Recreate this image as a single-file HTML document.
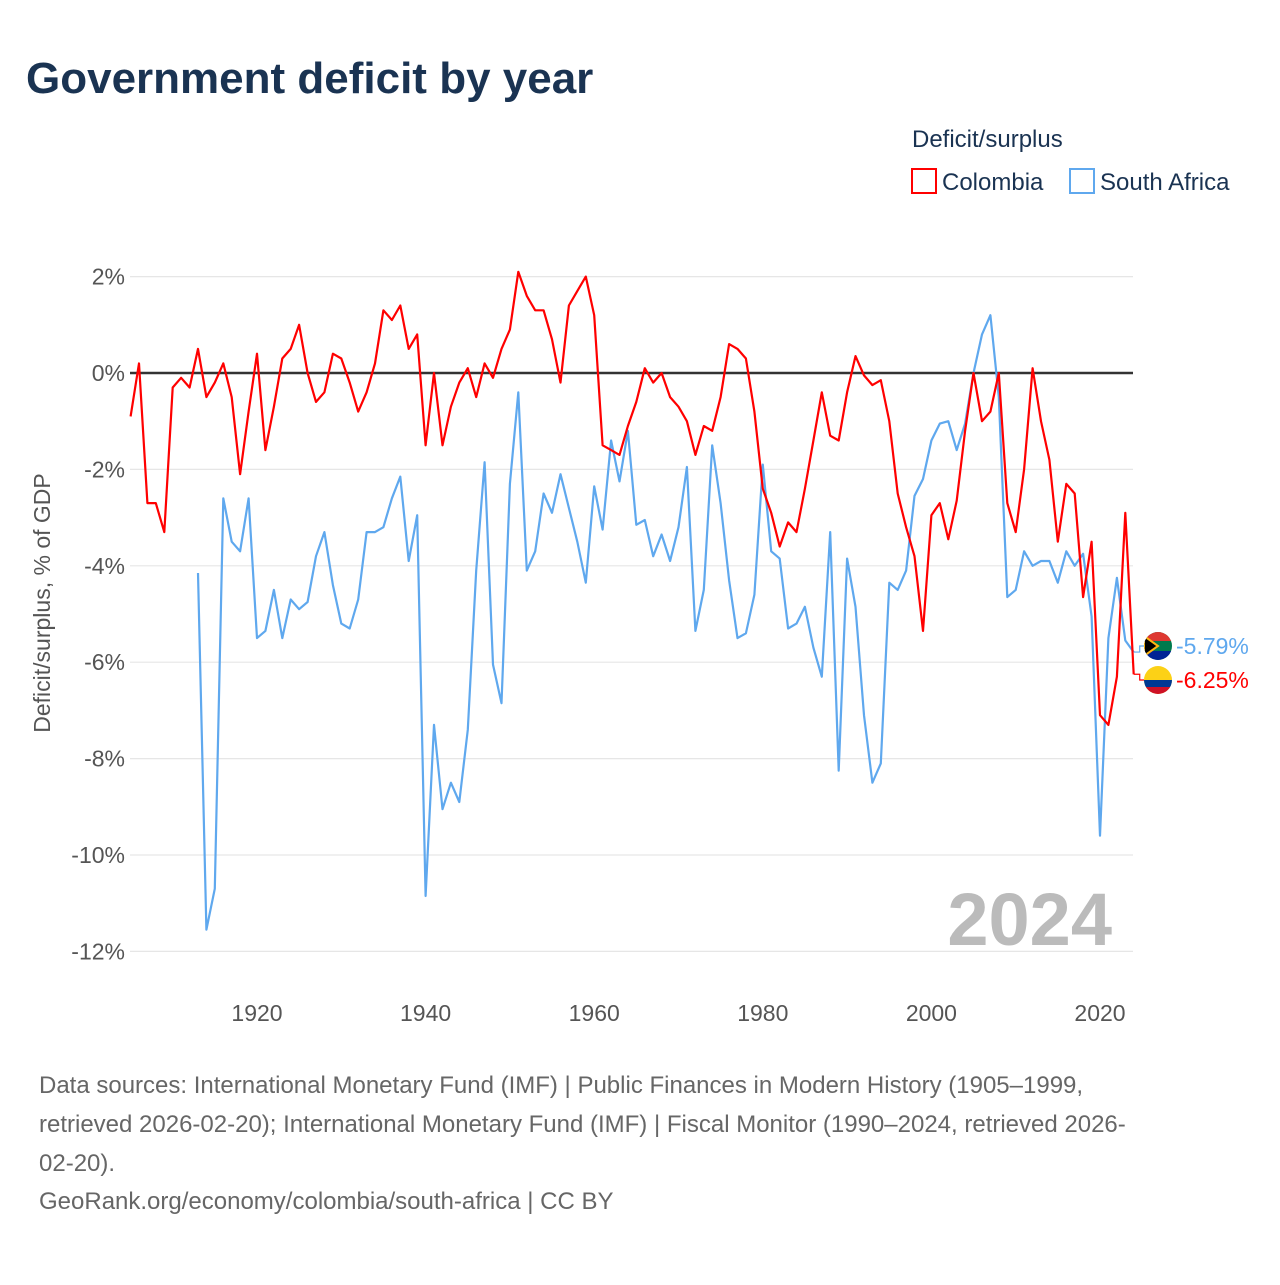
<!DOCTYPE html>
<html><head><meta charset="utf-8"><style>
body{margin:0;background:#fff;font-family:"Liberation Sans",sans-serif}
</style></head><body>
<svg id="chart" width="1280" height="1280" xmlns="http://www.w3.org/2000/svg" style="font-family:'Liberation Sans',sans-serif">
<defs>
<clipPath id="clipSA"><circle cx="1158" cy="646" r="14"/></clipPath>
<clipPath id="clipCO"><circle cx="1158" cy="680" r="14"/></clipPath>
</defs>
<text x="26" y="93" font-size="44" font-weight="bold" fill="#1a3352">Government deficit by year</text>
<text x="912" y="147" font-size="24" fill="#1a3352">Deficit/surplus</text>
<g><rect x="912" y="169" width="24" height="24" fill="none" stroke="#f00" stroke-width="2"/><text x="942" y="190" font-size="24" fill="#1a3352">Colombia</text></g>
<g><rect x="1070" y="169" width="24" height="24" fill="none" stroke="#5fa8ee" stroke-width="2"/><text x="1100" y="190" font-size="24" fill="#1a3352">South Africa</text></g>
<g id="grid"></g>
<g id="yticks"></g>
<g id="xticks"></g>
<text transform="translate(50,603) rotate(-90)" text-anchor="middle" font-size="23" fill="#555">Deficit/surplus, % of GDP</text>
<text x="1112" y="945" text-anchor="end" font-size="74" font-weight="bold" fill="#bbb">2024</text>
<g id="series"></g>
<g id="ends"></g>
<g font-size="24" fill="#666">
<text x="39" y="1093">Data sources: International Monetary Fund (IMF) | Public Finances in Modern History (1905–1999,</text>
<text x="39" y="1132">retrieved 2026-02-20); International Monetary Fund (IMF) | Fiscal Monitor (1990–2024, retrieved 2026-</text>
<text x="39" y="1171">02-20).</text>
<text x="39" y="1209">GeoRank.org/economy/colombia/south-africa | CC BY</text>
</g>
</svg>
<script>
const yTicks=[2,0,-2,-4,-6,-8,-10,-12];
const xTicks=[1920,1940,1960,1980,2000,2020];
const colStart=1905;
const colombia=[-0.9,0.2,-2.7,-2.7,-3.3,-0.3,-0.1,-0.3,0.5,-0.5,-0.2,0.2,-0.5,-2.1,-0.8,0.4,-1.6,-0.7,0.3,0.5,1.0,0.0,-0.6,-0.4,0.4,0.3,-0.2,-0.8,-0.4,0.2,1.3,1.1,1.4,0.5,0.8,-1.5,0.0,-1.5,-0.7,-0.2,0.1,-0.5,0.2,-0.1,0.5,0.9,2.1,1.6,1.3,1.3,0.7,-0.2,1.4,1.7,2.0,1.2,-1.5,-1.6,-1.7,-1.1,-0.6,0.1,-0.2,0.0,-0.5,-0.7,-1.0,-1.7,-1.1,-1.2,-0.5,0.6,0.5,0.3,-0.8,-2.4,-2.9,-3.6,-3.1,-3.3,-2.4,-1.4,-0.4,-1.3,-1.4,-0.4,0.35,-0.05,-0.25,-0.15,-1.0,-2.5,-3.2,-3.8,-5.35,-2.95,-2.7,-3.45,-2.65,-1.2,0.0,-1.0,-0.8,0.0,-2.7,-3.3,-2.0,0.1,-1.0,-1.8,-3.5,-2.3,-2.5,-4.65,-3.5,-7.1,-7.3,-6.3,-2.9,-6.25];
const saStart=1913;
const southAfrica=[-4.15,-11.55,-10.7,-2.6,-3.5,-3.7,-2.6,-5.5,-5.35,-4.5,-5.5,-4.7,-4.9,-4.75,-3.8,-3.3,-4.4,-5.2,-5.3,-4.7,-3.3,-3.3,-3.2,-2.6,-2.15,-3.9,-2.95,-10.85,-7.3,-9.05,-8.5,-8.9,-7.4,-4.1,-1.85,-6.05,-6.85,-2.3,-0.4,-4.1,-3.7,-2.5,-2.9,-2.1,-2.8,-3.5,-4.35,-2.35,-3.25,-1.4,-2.25,-1.2,-3.15,-3.05,-3.8,-3.35,-3.9,-3.2,-1.95,-5.35,-4.5,-1.5,-2.7,-4.3,-5.5,-5.4,-4.6,-1.9,-3.7,-3.85,-5.3,-5.2,-4.85,-5.7,-6.3,-3.3,-8.25,-3.85,-4.85,-7.1,-8.5,-8.1,-4.35,-4.5,-4.1,-2.55,-2.2,-1.4,-1.05,-1.0,-1.6,-1.05,0.0,0.8,1.2,-0.5,-4.65,-4.5,-3.7,-4.0,-3.9,-3.9,-4.35,-3.7,-4.0,-3.75,-5.05,-9.6,-5.5,-4.25,-5.55,-5.79];
const NS='http://www.w3.org/2000/svg';
const X=y=>257+(y-1920)*8.43;
const Y=v=>373-v*48.2;
function mk(t,a,p){const e=document.createElementNS(NS,t);for(const k in a)e.setAttribute(k,a[k]);p.appendChild(e);return e;}
const grid=document.getElementById('grid'),yt=document.getElementById('yticks'),xt=document.getElementById('xticks');
yTicks.forEach(v=>{
 const l=mk('line',{x1:130,x2:1133,y1:Y(v),y2:Y(v),stroke:v===0?'#333':'#e6e6e6','stroke-width':v===0?2.5:1.2},grid);
 
 
 const t=mk('text',{x:125,y:Y(v)+8,'text-anchor':'end','font-size':23,fill:'#555'},yt);
 t.textContent=v+'%';
 
 
});
xTicks.forEach(v=>{
 const t=mk('text',{x:X(v),y:1021,'text-anchor':'middle','font-size':23,fill:'#555'},xt);
 t.textContent=v;
 
 
});
const s=document.getElementById('series');
function line(arr,start,col,name){
 const d=arr.map((v,i)=>(i?'L':'M')+X(start+i).toFixed(1)+','+Y(v).toFixed(1)).join('');
 const p=mk('path',{d:d,fill:'none',stroke:col,'stroke-width':2.2,'stroke-linejoin':'round'},s);
 
 
}
line(southAfrica,saStart,'#5fa8ee','line-south-africa');
line(colombia,colStart,'#f00','line-colombia');
const ends=document.getElementById('ends');
function endLabel(arr,start,col,ly,name,flag){
 const v=arr[arr.length-1],x=X(start+arr.length-1),y=Y(v);
 const g=mk('g',{},ends);
 
 
 mk('polyline',{points:`${x},${y} ${x+6},${y} ${x+6},${ly} ${x+12},${ly}`,fill:'none',stroke:col,'stroke-width':1.2},g);
 const cx=1158;
 const f=mk('g',{'clip-path':flag==='sa'?'url(#clipSA)':'url(#clipCO)'},g);
 if(flag==='sa'){
  mk('rect',{x:cx-14,y:ly-14,width:28,height:28,fill:'#007a4d'},f);
  mk('rect',{x:cx-14,y:ly-14,width:28,height:9,fill:'#de3831'},f);
  mk('rect',{x:cx-14,y:ly+5,width:28,height:9,fill:'#002395'},f);
  mk('path',{d:`M${cx-14},${ly-10}L${cx},${ly}L${cx-14},${ly+10}z`,fill:'#000',stroke:'#ffb612','stroke-width':2},f);
 } else {
  mk('rect',{x:cx-14,y:ly-14,width:28,height:28,fill:'#fcd116'},f);
  mk('rect',{x:cx-14,y:ly,width:28,height:7,fill:'#003893'},f);
  mk('rect',{x:cx-14,y:ly+7,width:28,height:7,fill:'#ce1126'},f);
 }
 const t=mk('text',{x:1176,y:ly+8,'font-size':23,fill:col},g);
 t.textContent=v.toFixed(2)+'%';
}
endLabel(southAfrica,saStart,'#5fa8ee',646,'end-label-south-africa','sa');
endLabel(colombia,colStart,'#f00',680,'end-label-colombia','co');
</script>
</body></html>
